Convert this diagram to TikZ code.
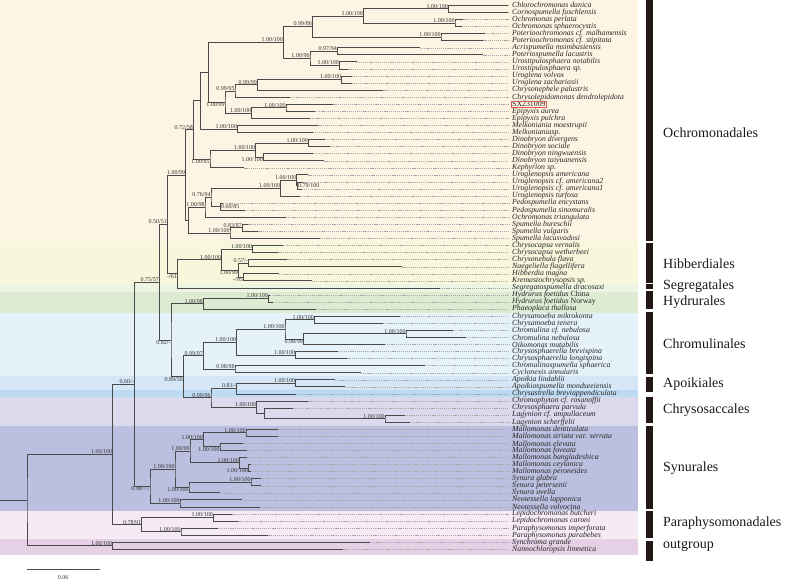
\documentclass[tikz,border=0pt]{standalone}
\usepackage{fontspec}
\setmainfont{Liberation Serif}
\usetikzlibrary{calc}
\definecolor{treec}{HTML}{4A4A4A}
\definecolor{dashc}{HTML}{A8A8A8}
\definecolor{bgOch}{HTML}{FEF4E4}
\definecolor{bgHib}{HTML}{F7F7DC}
\definecolor{bgSeg}{HTML}{EDF4E3}
\definecolor{bgHyd}{HTML}{DDEBD2}
\definecolor{bgChr}{HTML}{E5F2F9}
\definecolor{bgApo}{HTML}{D5E7F6}
\definecolor{bgCba}{HTML}{BCDAF1}
\definecolor{bgCsa}{HTML}{DADAEC}
\definecolor{bgSyn}{HTML}{BCC0E0}
\definecolor{bgPar}{HTML}{F6EBF3}
\definecolor{bgOut}{HTML}{E6D0E6}
\definecolor{barc}{HTML}{231815}
\definecolor{sxred}{HTML}{E05A5A}
\tikzset{
 br/.style={draw=treec, line width=0.75pt},
 dl/.style={draw=dashc, line width=0.35pt, dash pattern=on 1.2pt off 0.9pt},
 taxon/.style={anchor=west, inner sep=0pt, font=\fontsize{7.8}{7.8}\selectfont\itshape, text=black!85},
 sup/.style={inner sep=0.3pt, font=\fontsize{6}{6}\selectfont, text=black!80},
 sa/.style={anchor=south east},
 sb/.style={anchor=north east},
 sr/.style={anchor=west},
 ord/.style={anchor=west, inner sep=0pt, font=\fontsize{14}{14}\selectfont, text=black!90},
}
\newcommand\tip[3]{%
 \pgfmathsetmacro\yy{5.3+(#1-1)*7.065}%
 \coordinate (t#1) at (#2,\yy);
 \node[taxon] (l#1) at (512,\yy) {#3};
 \draw[dl] (t#1) -- ([xshift=-3pt]l#1.west);}
\newcommand\inode[4]{%
 \path let \p1=(#3), \p2=(#4) in coordinate (#1) at (#2pt,{0.5*(\y1+\y2)});
 \draw[br] (#3) -| (#1) |- (#4);}
\newcommand\snode[6]{%
 \inode{#1}{#2}{#3}{#4}%
 \node[sup,#6] (s#1) at (#1) {#5};}
\begin{document}
\begin{tikzpicture}[x=1pt,y=-1pt]
\useasboundingbox (0,0) rectangle (790,582);
% background bands
\fill[bgOch] (0,0) rectangle (638,242);
\fill[bgHib] (0,242) rectangle (638,284.4);
\fill[bgSeg] (0,284.4) rectangle (638,291.5);
\fill[bgHyd] (0,291.5) rectangle (638,312.6);
\fill[bgChr] (0,312.6) rectangle (638,376.2);
\fill[bgApo] (0,376.2) rectangle (638,390.3);
\fill[bgCba] (0,390.3) rectangle (638,397.4);
\fill[bgCsa] (0,397.4) rectangle (638,425.7);
\fill[bgSyn] (0,425.7) rectangle (638,510.5);
\fill[bgPar] (0,510.5) rectangle (638,538.8);
\fill[bgOut] (0,538.8) rectangle (638,555);
% order bars
\fill[barc] (646,0) rectangle (653,240.7);
\fill[barc] (646,242.6) rectangle (653,282.6);
\fill[barc] (646,284.4) rectangle (653,288.9);
\fill[barc] (646,291.1) rectangle (653,309.3);
\fill[barc] (646,312.2) rectangle (653,374.1);
\fill[barc] (646,376.7) rectangle (653,391.5);
\fill[barc] (646,397.4) rectangle (653,423.3);
\fill[barc] (646,425.9) rectangle (653,509.3);
\fill[barc] (646,511.1) rectangle (653,537.8);
\fill[barc] (646,540.5) rectangle (653,561);
% order labels
\node[ord] (oOch) at (663,133) {Ochromonadales};
\node[ord] (oHib) at (663,263.5) {Hibberdiales};
\node[ord] (oSeg) at (663,286) {Segregatales};
\node[ord] (oHyd) at (663,302) {Hydrurales};
\node[ord] (oChr) at (663,343.5) {Chromulinales};
\node[ord] (oApo) at (663,384.5) {Apoikiales};
\node[ord] (oCsa) at (663,410.5) {Chrysosaccales};
\node[ord] (oSyn) at (663,468.5) {Synurales};
\node[ord] (oPar) at (663,523) {Paraphysomonadales};
\node[ord] (oOut) at (663,546.5) {outgroup};
% tips
\tip{1}{508}{Chlorochromonas danica}
\tip{2}{508}{Cornospumella fuschlensis}
\tip{3}{463.3}{Ochromonas perlata}
\tip{4}{461.7}{Ochromonas sphaerocystis}
\tip{5}{485}{Poterioochromonas cf. malhamensis}
\tip{6}{483.3}{Poterioochromonas cf. stipitata}
\tip{7}{420}{Acrispumella msimbasiensis}
\tip{8}{483.3}{Poteriospumella lacustris}
\tip{9}{356.7}{Urostipulosphaera notabilis}
\tip{10}{348.3}{Urostipulosphaera sp.}
\tip{11}{351.7}{Uroglena volvox}
\tip{12}{351.7}{Uroglena zachariasii}
\tip{13}{383.3}{Chrysonephele palustris}
\tip{14}{290}{Chrysolepidomonas dendrolepidota}
\tip{15}{333.3}{\upshape SX231009}
\tip{16}{315}{Epipyxis aurea}
\tip{17}{310}{Epipyxis pulchra}
\tip{18}{318.3}{Melkoniania moestrupii}
\tip{19}{312.7}{Melkonianiasp.}
\tip{20}{325}{Dinobryon divergens}
\tip{21}{330}{Dinobryon sociale}
\tip{22}{312.7}{Dinobryon ningwuensis}
\tip{23}{324.3}{Dinobryon taiyuanensis}
\tip{24}{244.3}{Kephyrion sp.}
\tip{25}{308.3}{Uroglenopsis americana}
\tip{26}{303.3}{Uroglenopsis cf. americana2}
\tip{27}{301.7}{Uroglenopsis cf. americana1}
\tip{28}{300}{Uroglenopsis turfosa}
\tip{29}{223}{Pedospumella encystans}
\tip{30}{245}{Pedospumella sinomuralis}
\tip{31}{286}{Ochromonas triangulata}
\tip{32}{248.3}{Spumella bureschii}
\tip{33}{258.3}{Spumella vulgaris}
\tip{34}{320}{Spumella lacusvadosi}
\tip{35}{282.7}{Chrysocapsa vernalis}
\tip{36}{278.3}{Chrysocapsa wetherbeei}
\tip{37}{287.3}{Chrysonebula flava}
\tip{38}{402.3}{Naegeliella flagellifera}
\tip{39}{279}{Hibberdia magna}
\tip{40}{311.7}{Kremastochrysopsis sp.}
\tip{41}{440}{Segregatospumella dracosaxi}
\tip{42}{270}{Hydrurus foetidus {\upshape China}}
\tip{43}{272.7}{Hydrurus foetidus {\upshape Norway}}
\tip{44}{316}{Phaeoplaca thallosa}
\tip{45}{400}{Chrysamoeba mikrokonta}
\tip{46}{383}{Chrysamoeba tenera}
\tip{47}{453}{Chromulina cf. nebulosa}
\tip{48}{466}{Chromulina nebulosa}
\tip{49}{385}{Oikomonas mutabilis}
\tip{50}{337.7}{Chrysosphaerella brevispina}
\tip{51}{347.3}{Chrysosphaerella longispina}
\tip{52}{425}{Chromulinospumella sphaerica}
\tip{53}{361}{Cyclonexis annularis}
\tip{54}{335}{Apoikia lindahlii}
\tip{55}{345}{Apoikiospumella mondseeiensis}
\tip{56}{295.7}{Chrysastrella breviappendiculata}
\tip{57}{308.3}{Chromophyton cf. rosanoffii}
\tip{58}{292.7}{Chrysosphaera parvula}
\tip{59}{405}{Lagynion cf. ampullaceum}
\tip{60}{410}{Lagynion scherffelii}
\tip{61}{278.3}{Mallomonas denticulata}
\tip{62}{278.3}{Mallomonas striata var. serrata}
\tip{63}{243.3}{Mallomonas elevata}
\tip{64}{247.3}{Mallomonas foveata}
\tip{65}{246.7}{Mallomonas bangladeshica}
\tip{66}{250.5}{Mallomonas ceylanica}
\tip{67}{250.5}{Mallomonas peroneides}
\tip{68}{261}{Synura glabra}
\tip{69}{261}{Synura petersenii}
\tip{70}{220}{Synura uvella}
\tip{71}{241.7}{Neotessella lapponica}
\tip{72}{260}{Neotessella volvocina}
\tip{73}{232.3}{Lepidochromonas butcheri}
\tip{74}{238.3}{Lepidochromonas caroni}
\tip{75}{217.7}{Paraphysomonas imperforata}
\tip{76}{268.3}{Paraphysomonas parabebes}
\tip{77}{370}{Synchroma grande}
\tip{78}{343.3}{Nannochloropsis limnetica}
\draw[sxred, line width=0.45pt] ([shift={(-0.6pt,0.1pt)}]l15.south west) rectangle ([shift={(0.6pt,-0.1pt)}]l15.north east);
% Ochromonadales
\snode{a1}{448.3}{t1}{t2}{1.00/100}{sa}
\snode{a2}{455}{t3}{t4}{1.00/100}{sa}
\snode{a3}{363.3}{a1}{a2}{1.00/100}{sa}
\snode{a4}{441}{t5}{t6}{1.00/100}{sa}
\snode{a5}{312.3}{a3}{a4}{0.99/86}{sa}
\snode{a6}{337.3}{t7}{t8}{0.97/94}{sa}
\snode{a7}{339.3}{t9}{t10}{1.00/100}{sa}
\snode{a8}{310}{a6}{a7}{1.00/96}{sa}
\snode{a9}{283.3}{a5}{a8}{1.00/100}{sa}
\snode{a10}{341.7}{t11}{t12}{1.00/100}{sa}
\snode{a11}{257.3}{a10}{t13}{0.99/99}{sa}
\snode{a12}{235}{a11}{t14}{0.99/95}{sa}
\snode{a13}{286}{t15}{t16}{1.00/100}{sa}
\snode{a14}{251.7}{a13}{t17}{1.00/100}{sa}
\snode{a15}{225}{a12}{a14}{1.00/99}{sb}
\inode{a16}{208.3}{a9}{a15}
\snode{a17}{237.3}{t18}{t19}{1.00/100}{sa}
\inode{a18}{200.7}{a16}{a17}
\snode{a19}{308.3}{t20}{t21}{1.00/100}{sa}
\snode{a20}{263.3}{t22}{t23}{1.00/100}{sb}
\snode{a21}{255.7}{a19}{a20}{1.00/100}{sa}
\snode{a22}{210}{a21}{t24}{1.00/85}{sb}
\snode{a23}{193.3}{a18}{a22}{0.72/58}{sa}
\snode{a24}{297.7}{t26}{t27}{0.79/100}{sr}
\snode{a25}{296.7}{t25}{a24}{1.00/100}{sa}
\snode{a26}{280.7}{a25}{t28}{1.00/100}{sa}
\snode{a27}{220.7}{t29}{t30}{0.60/85}{sr}
\snode{a28}{211}{a26}{a27}{0.76/94}{sa}
\snode{a29}{205}{a28}{t31}{1.00/98}{sa}
\snode{a30}{242.3}{t32}{t33}{0.83/87}{sa}
\snode{a31}{230}{a30}{t34}{1.00/100}{sa}
\inode{a32}{188.3}{a29}{a31}
\snode{a33}{185.7}{a23}{a32}{1.00/99}{sa}
% Hibberdiales, Segregatales
\snode{b1}{252.7}{t35}{t36}{1.00/100}{sa}
\snode{b2}{248.3}{t37}{t38}{0.57/-}{sa}
\snode{b3}{243.3}{t39}{t40}{-/95}{sb}
\snode{b4}{238.3}{b2}{b3}{1.00/99}{sb}
\snode{b5}{221.7}{b1}{b4}{1.00/100}{sa}
\snode{b6}{177.3}{b5}{t41}{-/61}{sb}
\snode{a34}{167.3}{a33}{b6}{0.50/51}{sa}
% Hydrurales
\snode{c1}{268.3}{t42}{t43}{1.00/100}{sa}
\snode{c2}{203.3}{c1}{t44}{1.00/98}{sa}
% Chromulinales
\snode{d1}{314.3}{t45}{t46}{1.00/100}{sa}
\snode{d2}{406}{t47}{t48}{1.00/100}{sa}
\snode{d3}{303.3}{d2}{t49}{0.98/99}{sb}
\snode{d4}{285}{d1}{d3}{1.00/100}{sa}
\snode{d5}{295.7}{t50}{t51}{1.00/100}{sa}
\snode{d6}{236.7}{d4}{d5}{1.00/100}{sa}
\snode{d7}{235}{t52}{t53}{0.98/98}{sa}
\snode{d8}{203.3}{d6}{d7}{0.99/97}{sa}
% Apoikiales, Chrysosaccales
\snode{e1}{295.7}{t54}{t55}{1.00/100}{sa}
\snode{e2}{236.7}{e1}{t56}{0.81/-}{sa}
\snode{f1}{385}{t59}{t60}{1.00/100}{sa}
\inode{f2}{264.3}{t58}{f1}
\snode{f3}{256.7}{t57}{f2}{1.00/100}{sa}
\snode{e3}{211}{e2}{f3}{0.99/96}{sa}
\snode{d9}{183.3}{d8}{e3}{0.89/56}{sb}
\snode{d10}{171}{c2}{d9}{0.82/-}{sb}
\snode{g0}{159.3}{a34}{d10}{0.75/57}{sa}
% Synurales
\snode{h1}{246}{t61}{t62}{1.00/100}{sa}
\snode{h2}{220}{t63}{t64}{1.00/100}{sb}
\snode{h3}{203.3}{h1}{h2}{1.00/100}{sa}
\snode{h4}{248.3}{t66}{t67}{1.00/100}{sb}
\snode{h5}{239.3}{t65}{h4}{1.00/100}{sa}
\snode{h6}{190}{h3}{h5}{1.00/99}{sa}
\snode{h7}{251}{t68}{t69}{1.00/100}{sa}
\snode{h8}{189}{h7}{t70}{1.00/100}{sb}
\snode{h9}{175}{h6}{h8}{1.00/100}{sa}
\snode{h10}{180}{t71}{t72}{1.00/100}{sa}
\snode{h11}{150}{h9}{h10}{0.98/77}{sb}
\snode{g1}{134.3}{g0}{h11}{0.60/-}{sa}
% Paraphysomonadales
\snode{p1}{213.3}{t73}{t74}{1.00/100}{sa}
\snode{p2}{181}{t75}{t76}{1.00/100}{sa}
\snode{p3}{141.7}{p1}{p2}{0.78/91}{sa}
\snode{g2}{112.7}{g1}{p3}{1.00/100}{sa}
% outgroup and root
\snode{o1}{112.7}{t77}{t78}{1.00/100}{sa}
\inode{root}{27}{g2}{o1}
\path let \p1=(root) in coordinate (rs) at (0pt,\y1);
\draw[br] (rs) -- (root);
% scale bar
\coordinate (sb1) at (26.7,569.3);
\coordinate (sb2) at (100,569.3);
\draw[br] (sb1) -- (sb2);
\node[sup] (sbl) at (63,578) {0.06};
\end{tikzpicture}
\end{document}
